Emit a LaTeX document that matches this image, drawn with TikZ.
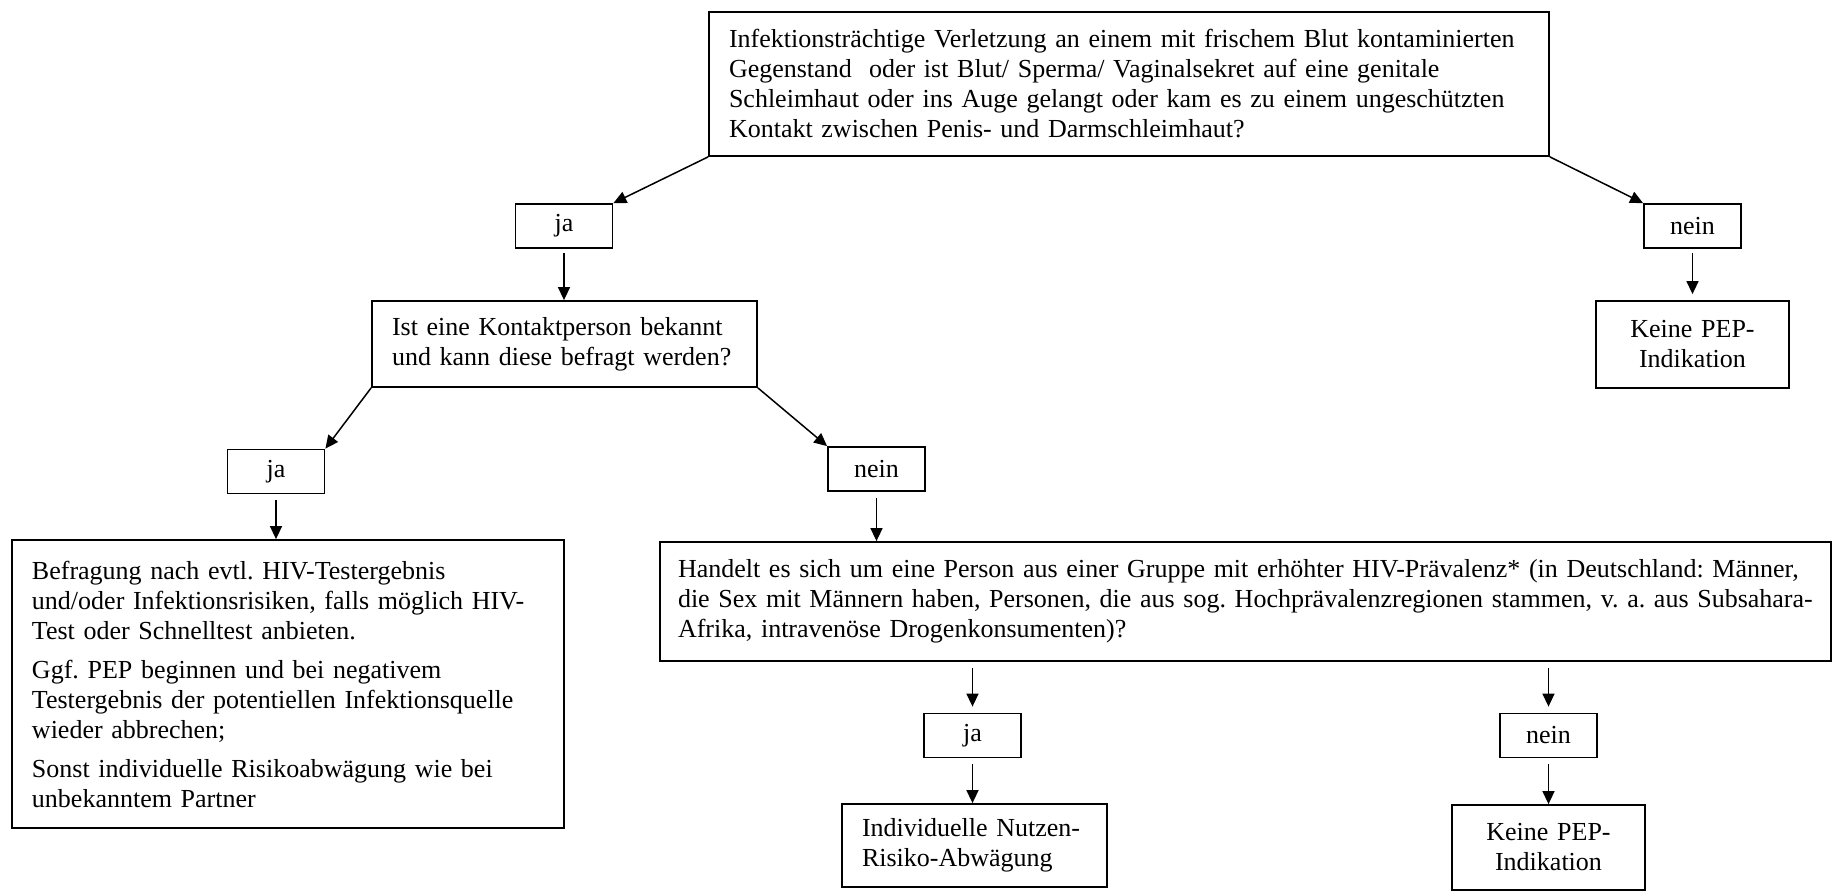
\documentclass[tikz,border=0pt]{standalone}
\usepackage{fontspec}
\setmainfont{Liberation Serif}
\usetikzlibrary{arrows.meta}
\frenchspacing

\begin{document}
\begin{tikzpicture}[x=0.5pt,y=-0.5pt,
  box/.style={draw,line width=0.9pt,inner xsep=10pt,inner ysep=0pt,align=left,
    font=\fontsize{13}{15}\selectfont},
  answer/.style={draw,line width=0.9pt,minimum width=48.5pt,minimum height=22pt,
    inner sep=0pt,font=\fontsize{13}{15}\selectfont},
  pfeil/.style={-{Triangle[length=6.5pt,width=6pt]},line width=0.75pt}]
\useasboundingbox (0,0) rectangle (1832,891);
\node[box,text width=400pt,minimum height=72pt] (frage1) at (1129,84)
  {Infektionsträchtige Verletzung an einem mit frischem Blut kontaminierten\\
   Gegenstand\ \ oder ist Blut/ Sperma/ Vaginalsekret auf eine genitale\\
   Schleimhaut oder ins Auge gelangt oder kam es zu einem ungeschützten\\
   Kontakt zwischen Penis- und Darmschleimhaut?};
\node[answer] (ja1) at (564,226) {ja};
\node[answer] (nein1) at (1692.5,226) {nein};
\node[box,align=center,text width=76.5pt,minimum height=43.5pt] (keine1) at (1692.5,344.5)
  {Keine PEP-\\ Indikation};
\node[box,text width=172.5pt,minimum height=43pt] (frage2) at (564.5,344)
  {Ist eine Kontaktperson bekannt\\ und kann diese befragt werden?};
\node[answer] (ja2) at (276,471.5) {ja};
\node[answer] (nein2) at (876.5,469) {nein};
\node[box,text width=256pt,minimum height=144pt] (befragung) at (288,684)
  {Befragung nach evtl. HIV-Testergebnis\\
   und/oder Infektionsrisiken, falls möglich HIV-\\
   Test oder Schnelltest anbieten.\\[4.5pt]
   Ggf. PEP beginnen und bei negativem\\
   Testergebnis der potentiellen Infektionsquelle\\
   wieder abbrechen;\\[4.5pt]
   Sonst individuelle Risikoabwägung wie bei\\
   unbekanntem Partner};
\node[box,inner xsep=9pt,text width=567.5pt,minimum height=59.5pt] (frage3) at (1245.5,601.5)
  {Handelt es sich um eine Person aus einer Gruppe mit erhöhter HIV-Prävalenz* (in Deutschland: Männer,\\
   die Sex mit Männern haben, Personen, die aus sog. Hochprävalenzregionen stammen, v. a. aus Subsahara-\\
   Afrika, intravenöse Drogenkonsumenten)?};
\node[answer] (ja3) at (972.5,735.5) {ja};
\node[answer] (nein3) at (1548.5,735.5) {nein};
\node[box,text width=112.5pt,minimum height=41.5pt] (nutzen) at (974.5,845.5)
  {Individuelle Nutzen-\\ Risiko-Abwägung};
\node[box,align=center,text width=76.5pt,minimum height=42.5pt] (keine2) at (1548.5,847.5)
  {Keine PEP-\\ Indikation};

\draw[pfeil] (frage1.south west) -- (ja1.north east);
\draw[pfeil] (frage1.south east) -- (nein1.north west);
\draw[pfeil,shorten <=2pt] (ja1.south) -- (ja1.south |- frage2.north);
\draw[pfeil,shorten <=2pt,shorten >=3pt] (nein1.south) -- (nein1.south |- keine1.north);
\draw[pfeil] (frage2.south west) -- (ja2.north east);
\draw[pfeil] (frage2.south east) -- (nein2.north west);
\draw[pfeil,shorten <=3pt] (ja2.south) -- (ja2.south |- befragung.north);
\draw[pfeil,shorten <=3pt] (nein2.south) -- (nein2.south |- frage3.north);
\draw[pfeil,shorten <=3pt,shorten >=3pt] (ja3.north |- frage3.south) -- (ja3.north);
\draw[pfeil,shorten <=3pt,shorten >=3pt] (nein3.north |- frage3.south) -- (nein3.north);
\draw[pfeil,shorten <=3pt] (ja3.south) -- (ja3.south |- nutzen.north);
\draw[pfeil,shorten <=3pt] (nein3.south) -- (nein3.south |- keine2.north);
\end{tikzpicture}
\end{document}
